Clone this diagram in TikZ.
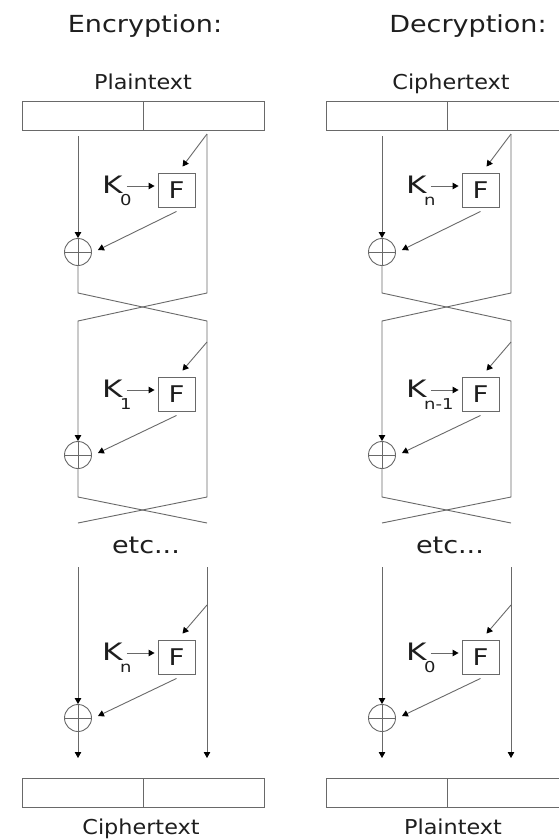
\documentclass[tikz,border=0pt]{standalone}
\usepackage{fontspec}
\setmainfont{DejaVu Sans}
\newfontfamily\titlefont{DejaVu Sans}[FakeStretch=1.15]
\newfontfamily\labelfont{DejaVu Sans}[FakeStretch=1.09]
\newfontfamily\keyfont{DejaVu Sans}[FakeStretch=1.3]
\newfontfamily\funcfont{DejaVu Sans}[FakeStretch=1.2]
\usetikzlibrary{arrows.meta,calc}
\definecolor{wirecol}{RGB}{105,105,105}
\definecolor{inkcol}{RGB}{30,30,30}
\tikzset{
  wire/.style={draw=wirecol,line width=0.9pt},
  arrowline/.style={wire,-{Triangle[length=6pt,width=6.5pt,color=black]}},
  half/.style={wire,rectangle,minimum width=121pt,minimum height=29pt,inner sep=0pt},
  funcbox/.style={wire,rectangle,minimum width=37pt,minimum height=34pt,inner sep=0pt,
    text=inkcol,font=\funcfont\fontsize{23}{23}\selectfont},
  xor/.style={wire,circle,minimum size=27pt,inner sep=0pt,
    path picture={\draw[wirecol,line width=0.9pt]
      (path picture bounding box.north) -- (path picture bounding box.south)
      (path picture bounding box.west) -- (path picture bounding box.east);}},
  keylbl/.style={anchor=base west,inner sep=0pt,text=inkcol,font=\keyfont\fontsize{24}{24}\selectfont},
  sublbl/.style={anchor=base west,inner sep=0pt,text=inkcol,font=\funcfont\fontsize{15}{15}\selectfont},
  ttl/.style={anchor=base,inner sep=0pt,text=inkcol,font=\titlefont\fontsize{23.5}{24}\selectfont},
  lbl/.style={anchor=base,inner sep=0pt,text=inkcol,font=\labelfont\fontsize{20.5}{21}\selectfont},
}
% One Feistel column: #1 name prefix, #2 horizontal offset, #3-#5 round key subscripts
\newcommand\feistelpanel[5]{%
\begin{scope}[xshift=#2]
  % input and output halves
  \node[half] (#1inL) at (82.5,115.5) {};
  \node[half] (#1inR) at (203.5,115.5) {};
  \node[half] (#1outL) at (82.5,792.5) {};
  \node[half] (#1outR) at (203.5,792.5) {};
  % round functions and XORs
  \node[funcbox] (#1F1) at (176.5,190) {F};
  \node[funcbox] (#1F2) at (176.5,394) {F};
  \node[funcbox] (#1F3) at (176.5,657) {F};
  \node[xor] (#1X1) at (78,252) {};
  \node[xor] (#1X2) at (78,455) {};
  \node[xor] (#1X3) at (78,718) {};
  % round keys
  \node[keylbl] (#1K1) at (102,193) {K};
  \node[sublbl] (#1S1) at (120,205) {#3};
  \node[keylbl] (#1K2) at (102,397) {K};
  \node[sublbl] (#1S2) at (120,409) {#4};
  \node[keylbl] (#1K3) at (102,660) {K};
  \node[sublbl] (#1S3) at (120,672) {#5};
  % wire points
  \coordinate (#1a1) at (78,136);
  \coordinate (#1b1) at (207,134);
  \coordinate (#1cL1) at (78,293);  \coordinate (#1cR1) at (207,293);
  \coordinate (#1dL1) at (78,321);  \coordinate (#1dR1) at (207,321);
  \coordinate (#1cL2) at (78,497);  \coordinate (#1cR2) at (207,497);
  \coordinate (#1dL2) at (78,523);  \coordinate (#1dR2) at (207,523);
  \coordinate (#1a3) at (78,567);   \coordinate (#1b3) at (207,567);
  \coordinate (#1eL) at (78,758);   \coordinate (#1eR) at (207,758);
  \coordinate (#1g1) at (207,134);
  \coordinate (#1g2) at (207,342);
  \coordinate (#1g3) at (207,605);
  % round 1 and 2
  \draw[arrowline] (#1a1) -- (#1X1.north);
  \draw[arrowline] (#1b1) -- (#1cR1) -- (#1dL1) -- (#1X2.north);
  \draw[wire] (#1X1.south) -- (#1cL1) -- (#1dR1) -- (#1cR2) -- (#1dL2);
  \draw[wire] (#1X2.south) -- (#1cL2) -- (#1dR2);
  % last round
  \draw[arrowline] (#1a3) -- (#1X3.north);
  \draw[arrowline] (#1b3) -- (#1eR);
  \draw[arrowline] (#1X3.south) -- (#1eL);
  % taps into F, keys into F, F into XOR
  \foreach \r in {1,2,3}{
    \draw[arrowline] (#1g\r) -- ($(#1F\r.north)+(6,-6)$);
    \coordinate (#1kin\r) at ($(#1F\r.west)+(-3,-4)$);
    \draw[arrowline] ($(#1kin\r -| #1K\r.east)+(4,0)$) -- (#1kin\r);
    \draw[arrowline] ($(#1F\r.south)+(0,4)$) -- ($(#1X\r.east)+(6,-2)$);
  }
\end{scope}}

\begin{document}
\begin{tikzpicture}[x=1pt,y=-1pt]
  \path[use as bounding box,clip] (0,0) rectangle (559,839);
  \fill[white] (0,0) rectangle (559,839);

  \node[ttl] (enctitle) at (145,32) {Encryption:};
  \node[ttl] (dectitle) at (468,32) {Decryption:};

  \feistelpanel{e}{0pt}{0}{1}{n}
  \feistelpanel{d}{304pt}{n}{n-1}{0}

  \node[lbl] (encin) at (143,89) {Plaintext};
  \node[lbl] (encout) at (141,834) {Ciphertext};
  \node[lbl] (decin) at (451,89) {Ciphertext};
  \node[lbl] (decout) at (453,834) {Plaintext};

  \node[lbl,font=\titlefont\fontsize{23.5}{24}\selectfont] (eetc) at (146,553) {etc...};
  \node[lbl,font=\titlefont\fontsize{23.5}{24}\selectfont] (detc) at (450,553) {etc...};
\end{tikzpicture}
\end{document}
